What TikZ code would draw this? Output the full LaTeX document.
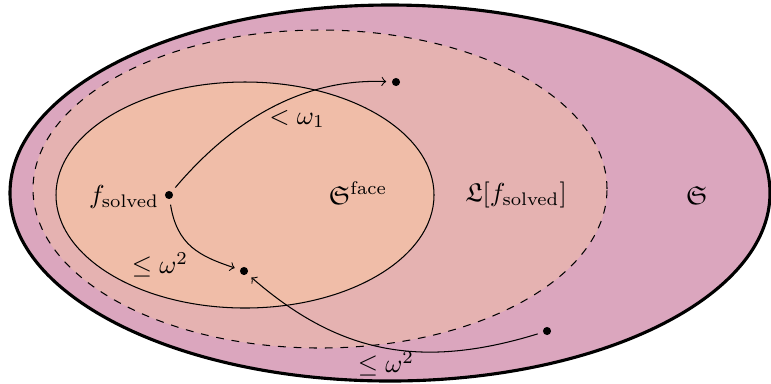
\documentclass[tikz,border=0pt]{standalone}
\usepackage{amsmath}
\usepackage{amssymb}

\definecolor{outerfill}{RGB}{219,166,190}
\definecolor{leveled}{RGB}{229,178,177}
\definecolor{facefill}{RGB}{240,189,168}

\begin{document}
\begin{tikzpicture}[x=0.0135cm,y=0.0135cm,
    pnt/.style={circle,fill,inner sep=1.1pt},
    lbl/.style={inner sep=1pt},
    jump/.style={->,shorten <=2pt,shorten >=2pt}]
    \useasboundingbox (0,0) rectangle (771,383);
    \draw[line width=1.2pt,fill=outerfill] (390,190) ellipse [x radius=380,y radius=188];
    \draw[dashed,fill=leveled] (320,194) ellipse [x radius=287,y radius=159];
    \draw[fill=facefill] (245,188) ellipse [x radius=189,y radius=113];

    \node[pnt] (fs) at (169,188) {};
    \node[pnt] (top) at (396,301) {};
    \node[pnt] (mid) at (244,112) {};
    \node[pnt] (far) at (547,52) {};

    \node[lbl] (fslbl) at (124,186) {$f_{\mathrm{solved}}$};
    \node[lbl] (face) at (358,190) {$\mathfrak{S}^{\mathrm{face}}$};
    \node[lbl] (lev) at (516,188) {$\mathfrak{L}[f_{\mathrm{solved}}]$};
    \node[lbl] (all) at (697,188) {$\mathfrak{S}$};
    \node[lbl] (lt) at (297,264) {$<\omega_1$};
    \node[lbl] (le) at (160,118) {$\leq\omega^2$};
    \node[lbl] (lefar) at (386,19) {$\leq\omega^2$};

    \draw[jump] (fs) .. controls +(61,72) and +(-96,4) .. (top);
    \draw[jump] (fs) .. controls +(8,-50) and +(-45,15) .. (mid);
    \draw[jump] (far) .. controls +(-130,-40) and +(92,-80) .. (mid);
\end{tikzpicture}
\end{document}
